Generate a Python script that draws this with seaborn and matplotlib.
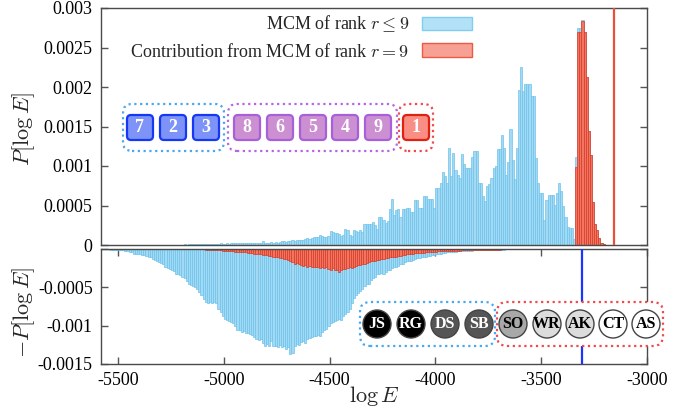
import numpy as np
import pandas as pd
import matplotlib
matplotlib.use("Agg")
import matplotlib.pyplot as plt
import seaborn as sns
from matplotlib.patches import FancyBboxPatch, Circle, Patch
from matplotlib.transforms import IdentityTransform

# ---------------- data ----------------
BIN_WIDTH = 10

# upper panel: P[log E] of MCM of rank r<=9 (bins of width 10 starting at -5200)
top_blue_start = -5200
top_blue = [
    0.000005, 0.000008, 0.000006, 0.00001, 0.000008, 0.00001, 0.000012, 0.00001, 0.000012, 0.000014,
    0.000012, 0.000015, 0.000013, 0.000016, 0.000014, 0.000018, 0.000015, 0.000017, 0.00002, 0.000016,
    0.000018, 0.00002, 0.000017, 0.000022, 0.00002, 0.000019, 0.000024, 0.00002, 0.000022, 0.000025,
    0.000021, 0.000024, 0.00002, 0.000026, 0.000023, 0.000027, 0.000025, 0.00003, 0.00005, 0.000028,
    0.00003, 0.000027, 0.000032, 0.00003, 0.000035, 0.00003, 0.00004, 0.000045, 0.00005, 0.00004,
    0.000055, 0.00005, 0.00006, 0.00005, 0.000062, 0.000058, 0.00006, 0.000065, 0.00008, 0.000085,
    0.00008, 0.00009, 0.0001, 0.000095, 0.000105, 0.00013, 0.00012, 0.0001, 0.000095, 0.00011,
    0.00018, 0.00016, 0.00015, 0.00015, 0.00014, 0.00012, 0.00013, 0.0002, 0.00019, 0.00013,
    0.00012, 0.00019, 0.00018, 0.00017, 0.00019, 0.00016, 0.00027, 0.00026, 0.00027, 0.00026,
    0.00029, 0.00025, 0.0002, 0.00035, 0.00036, 0.00032, 0.00028, 0.00031, 0.00046, 0.00058,
    0.00038, 0.00044, 0.00045, 0.00036, 0.00046, 0.00046, 0.00047, 0.00047, 0.00042, 0.00042,
    0.00057, 0.00057, 0.00047, 0.00047, 0.00062, 0.00062, 0.00058, 0.00058, 0.00058, 0.00047,
    0.00072, 0.00072, 0.00078, 0.00092, 0.00087, 0.00078, 0.00123, 0.00087, 0.00116, 0.00095,
    0.00089, 0.00085, 0.00115, 0.00102, 0.00098, 0.00098, 0.00098, 0.00112, 0.00119, 0.00119,
    0.00079, 0.00079, 0.00062, 0.00056, 0.00075, 0.00077, 0.00085, 0.00098, 0.001, 0.00122,
    0.00122, 0.00139, 0.00123, 0.00088, 0.00105, 0.00147, 0.00107, 0.00084, 0.00123, 0.00196,
    0.00225, 0.00195, 0.00204, 0.00204, 0.00204, 0.00189, 0.00189, 0.0011, 0.00078, 0.00066,
    0.00066, 0.00032, 0.00057, 0.00063, 0.00063, 0.00063, 0.00051, 0.00066, 0.00078, 0.00068,
    0.00049, 0.00035, 0.00023, 0.00021, 0.00021, 0.00008, 0.00112, 0.00275, 0.00275, 0.00285,
    0.0027, 0.00213, 0.00144, 0.00114, 0.00054, 0.00027, 0.00019, 0.00009, 0.00003, 0.00001,
]

# upper panel: contribution from MCM of rank r=9
top_red_start = -3340
top_red = [0.00099, 0.00269, 0.00269, 0.00283, 0.0027, 0.00213, 0.00144, 0.00114,
           0.00054, 0.00027, 0.00019, 0.00009, 0.00003, 0.00001]

# lower panel (plotted as -P[log E])
bot_blue_start = -5590
bot_blue = [
    0.000004, 0.000005, 0.000005, 0.000006, 0.000006, 0.000007, 0.000008, 0.000009, 0.00001, 0.000012,
    0.000015, 0.000018, 0.000022, 0.000028, 0.000035, 0.000045, 0.000062, 0.000066, 0.00007, 0.000068,
    0.000075, 0.000078, 0.00009, 0.0001, 0.00011, 0.00013, 0.00014, 0.00015, 0.00017, 0.00018,
    0.0002, 0.00023, 0.00025, 0.00026, 0.00027, 0.00029, 0.00032, 0.00033, 0.00034, 0.00036,
    0.00038, 0.00042, 0.00045, 0.00047, 0.00048, 0.00049, 0.00052, 0.00056, 0.0006, 0.00065,
    0.00069, 0.0007, 0.00069, 0.0007, 0.00069, 0.00071, 0.00078, 0.00082, 0.00088, 0.00091,
    0.00092, 0.00094, 0.00095, 0.00097, 0.001, 0.00106, 0.00105, 0.00108, 0.00107, 0.0011,
    0.00109, 0.00111, 0.00112, 0.00115, 0.00117, 0.00119, 0.00118, 0.00122, 0.00126, 0.00124,
    0.00126, 0.0012, 0.00127, 0.00126, 0.00128, 0.00125, 0.00128, 0.00127, 0.0013, 0.00128,
    0.00137, 0.00135, 0.00127, 0.00124, 0.00125, 0.00121, 0.0012, 0.00122, 0.00118, 0.00116,
    0.00115, 0.00114, 0.00113, 0.00112, 0.00113, 0.00108, 0.00106, 0.00104, 0.001, 0.00096,
    0.00095, 0.00094, 0.00093, 0.00091, 0.00093, 0.00088, 0.00085, 0.00082, 0.00078, 0.0007,
    0.00064, 0.0006, 0.00057, 0.00055, 0.00052, 0.00048, 0.00046, 0.00045, 0.0004, 0.00038,
    0.00036, 0.00033, 0.00032, 0.00031, 0.00032, 0.0003, 0.00028, 0.00027, 0.00025, 0.00024,
    0.00023, 0.00022, 0.0002, 0.00019, 0.00017, 0.00016, 0.00016, 0.00015, 0.00014, 0.00013,
    0.00012, 0.00012, 0.00011, 0.0001, 0.0001, 0.00009, 0.000085, 0.00008, 0.000075, 0.00007,
    0.000065, 0.00006, 0.000055, 0.00005, 0.000045, 0.000042, 0.00004, 0.000038, 0.000035, 0.000032,
    0.00003, 0.000028, 0.000025, 0.000023, 0.000022, 0.00002, 0.00002, 0.000019, 0.000018, 0.000017,
    0.000016, 0.000015, 0.000014, 0.000013, 0.000012, 0.000011, 0.00001, 0.00001, 0.000009, 0.000008,
    0.000008, 0.000007, 0.000006, 0.000006, 0.000005, 0.000005, 0.000004, 0.000004, 0.000003, 0.000003,
]

bot_red_start = -5130
bot_red = [
    0.000003, 0.000004, 0.000005, 0.000006, 0.000007, 0.000008, 0.000009, 0.00001, 0.000012, 0.000014,
    0.000016, 0.000018, 0.00002, 0.000022, 0.000024, 0.000026, 0.000028, 0.00003, 0.000033, 0.000036,
    0.000038, 0.00004, 0.000042, 0.000045, 0.00005, 0.000048, 0.000055, 0.00006, 0.000062, 0.000065,
    0.00007, 0.000072, 0.000075, 0.00008, 0.000085, 0.00009, 0.0001, 0.000105, 0.00011, 0.00012,
    0.00012, 0.00013, 0.000135, 0.00014, 0.00015, 0.00017, 0.00019, 0.00018, 0.0002, 0.00021,
    0.00022, 0.00021, 0.00023, 0.00022, 0.00024, 0.00023, 0.00024, 0.00023, 0.00025, 0.00024,
    0.00025, 0.00024, 0.00026, 0.00027, 0.00025, 0.00027, 0.00028, 0.0003, 0.00027, 0.00026,
    0.00026, 0.00025, 0.00024, 0.00025, 0.00023, 0.00022, 0.00021, 0.00021, 0.0002, 0.00019,
    0.00018, 0.00017, 0.00016, 0.00016, 0.00015, 0.00014, 0.00014, 0.00013, 0.00013, 0.00012,
    0.00012, 0.00011, 0.00011, 0.0001, 0.0001, 0.00009, 0.000085, 0.00008, 0.000075, 0.00007,
    0.000068, 0.000065, 0.00006, 0.000058, 0.000055, 0.000052, 0.00005, 0.000048, 0.000045, 0.000042,
    0.00004, 0.000038, 0.000036, 0.000034, 0.000032, 0.00003, 0.000028, 0.000027, 0.000026, 0.000025,
    0.000024, 0.000023, 0.000022, 0.000021, 0.00002, 0.000019, 0.000018, 0.000017, 0.000016, 0.000015,
    0.000014, 0.000013, 0.000013, 0.000012, 0.000012, 0.000011, 0.00001, 0.00001, 0.000009, 0.000009,
    0.000008, 0.000008, 0.000007, 0.000007, 0.000006, 0.000006, 0.000005, 0.000005, 0.000004, 0.000004,
]

x_ticks = [-5500, -5000, -4500, -4000, -3500, -3000]
x_tick_labels = ["-5500", "-5000", "-4500", "-4000", "-3500", "-3000"]
top_y_ticks = [0, 0.0005, 0.001, 0.0015, 0.002, 0.0025, 0.003]
top_y_tick_labels = ["0", "0.0005", "0.001", "0.0015", "0.002", "0.0025", "0.003"]
bot_y_ticks = [-0.0015, -0.001, -0.0005, 0]
bot_y_tick_labels = ["-0.0015", "-0.001", "-0.0005", ""]

red_line_x = -3156
blue_line_x = -3307

legend_labels = ["MCM of rank $r \\leq 9$", "Contribution from MCM of rank $r = 9$"]

square_labels = ["7", "2", "3", "8", "6", "5", "4", "9", "1"]
square_group = [0, 0, 0, 1, 1, 1, 1, 1, 2]
circle_labels = ["JS", "RG", "DS", "SB", "SO", "WR", "AK", "CT", "AS"]
circle_fill = ["#000000", "#000000", "#555555", "#555555", "#a8a8a8",
               "#dcdcdc", "#dcdcdc", "#ffffff", "#ffffff"]
circle_text = ["white", "white", "white", "white", "black",
               "black", "black", "black", "black"]

# ---------------- style ----------------
sns.set_theme(style="ticks")
plt.rcParams["font.family"] = ["Liberation Serif", "DejaVu Serif"]
plt.rcParams["mathtext.fontset"] = "cm"
plt.rcParams["axes.unicode_minus"] = False

BLUE_FC, BLUE_EC = "#a3d9f3", "#6cc3ec"
RED_FC, RED_EC = "#f27461", "#d83a25"
SPINE = "#4a4a4a"

W, H = 693, 416
fig = plt.figure(figsize=(W / 100, H / 100), dpi=100)
ax1 = fig.add_axes([101 / W, 1 - 245 / H, 546 / W, 237 / H])
ax2 = fig.add_axes([101 / W, 1 - 364 / H, 546 / W, 115 / H])


def hist(ax, start, vals, sign, fc, ec):
    vals = np.asarray(vals, dtype=float)
    n = len(vals)
    df = pd.DataFrame({
        "logE": start + BIN_WIDTH * (np.arange(n) + 0.5),
        "P": sign * vals,
    })
    sns.histplot(data=df, x="logE", weights="P", binwidth=BIN_WIDTH,
                 binrange=(start, start + BIN_WIDTH * n), ax=ax,
                 color=fc, edgecolor=ec, linewidth=0.5, alpha=1.0)


hist(ax1, top_blue_start, top_blue, 1, BLUE_FC, BLUE_EC)
hist(ax1, top_red_start, top_red, 1, RED_FC, RED_EC)
hist(ax2, bot_blue_start, bot_blue, -1, BLUE_FC, BLUE_EC)
hist(ax2, bot_red_start, bot_red, -1, RED_FC, RED_EC)

ax1.axvline(red_line_x, color="#e8503a", lw=1.6, zorder=5)
ax2.axvline(blue_line_x, color="#1a35ff", lw=1.6, zorder=5)

for ax in (ax1, ax2):
    ax.set_xlim(-5580, -3000)
    for s in ax.spines.values():
        s.set_color(SPINE)
        s.set_linewidth(1.0)
    ax.tick_params(direction="in", length=5, width=1, color="#555555",
                   labelsize=13, labelcolor="black", pad=6)

ax1.set_ylim(0, 0.003)
ax1.set_yticks(top_y_ticks)
ax1.set_yticklabels(top_y_tick_labels)
ax1.tick_params(axis="x", bottom=False, top=False, labelbottom=False)
ax1.tick_params(axis="y", left=True, right=True)
ax1.set_xlabel("")
ax1.set_ylabel("$P[\\log E]$", fontsize=16)
ax1.yaxis.set_label_coords(-0.117, 0.49)

ax2.set_ylim(-0.0015, 0)
ax2.set_yticks(bot_y_ticks)
ax2.set_yticklabels(bot_y_tick_labels)
ax2.set_xticks(x_ticks)
ax2.set_xticklabels(x_tick_labels)
ax2.tick_params(axis="x", bottom=True, top=True)
ax2.tick_params(axis="y", left=True, right=True)
ax2.set_xlabel("$\\log E$", fontsize=16)
ax2.xaxis.set_label_coords(0.5, -0.17)
ax2.set_ylabel("$-P[\\log E]$", fontsize=16)
ax2.yaxis.set_label_coords(-0.117, 0.45)

handles = [Patch(facecolor="#b3e1f6", edgecolor="#7fcdf0", lw=1),
           Patch(facecolor="#f7a194", edgecolor="#ec5a45", lw=1)]
ax1.legend(handles=handles, labels=legend_labels, loc="upper right",
           bbox_to_anchor=(0.6795, 0.975), frameon=False, markerfirst=False,
           handlelength=2.75, handleheight=0.8, labelspacing=0.45,
           handletextpad=0.7, borderpad=0, borderaxespad=0, fontsize=13)

# ---------------- decorations in pixel coordinates ----------------
T = IdentityTransform()


def rbox(x0, y0, x1, y1, r, **kw):
    p = FancyBboxPatch((x0 + r, H - y1 + r), (x1 - x0) - 2 * r, (y1 - y0) - 2 * r,
                       boxstyle=f"round,pad={r}", transform=T, **kw)
    fig.add_artist(p)


dots = (0, (1, 1.6))
# upper group frames
rbox(123, 104, 224, 151, 9, fc="none", ec="#4aa8f0", lw=1.6, ls=dots)
rbox(228, 104, 397, 151, 9, fc="none", ec="#b566e0", lw=1.6, ls=dots)
rbox(399, 104, 433, 151, 9, fc="none", ec="#f04a4a", lw=1.6, ls=dots)

sq_fc = ["#7d93f7", "#cc90d2", "#f88e84"]
sq_ec = ["#1638f5", "#a860d8", "#e02010"]
sq_x = [140, 173, 206, 247, 280, 313, 345, 378, 416]
for lab, g, cx in zip(square_labels, square_group, sq_x):
    rbox(cx - 13, 115, cx + 13, 140, 4, fc=sq_fc[g], ec=sq_ec[g], lw=1.6)
    fig.text(cx, H - 128, lab, transform=T, ha="center", va="center",
             color="white", fontsize=13, fontweight="bold")

# lower group frames (white filled)
rbox(360, 302, 495, 346, 10, fc="white", ec="#4aa8f0", lw=1.6, ls=dots)
rbox(497, 302, 663, 346, 10, fc="white", ec="#f04a4a", lw=1.6, ls=dots)

ci_x = [377, 411, 445, 479, 513, 547, 580, 613, 646]
for lab, fc, tc, cx in zip(circle_labels, circle_fill, circle_text, ci_x):
    c = Circle((cx, H - 324), 14, transform=T, fc=fc, ec="#444444", lw=1.0)
    fig.add_artist(c)
    fig.text(cx, H - 324.5, lab, transform=T, ha="center", va="center",
             color=tc, fontsize=11.5, fontweight="bold")

fig.savefig("out.png", dpi=100)
